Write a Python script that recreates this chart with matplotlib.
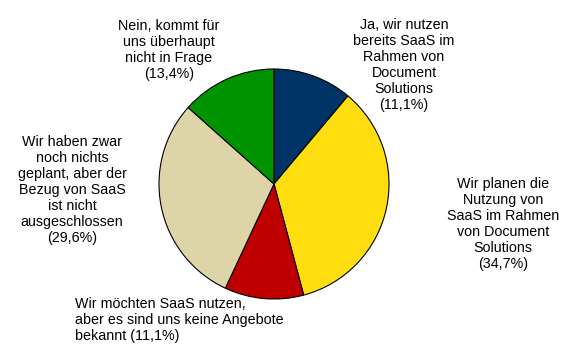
import matplotlib.pyplot as plt

# Daten
labels = [
    "Ja, wir nutzen\nbereits SaaS im\nRahmen von\nDocument\nSolutions\n(11,1%)",
    "Wir planen die\nNutzung von\nSaaS im Rahmen\nvon Document\nSolutions\n(34,7%)",
    "Wir möchten SaaS nutzen,\naber es sind uns keine Angebote\nbekannt (11,1%)",
    "Wir haben zwar\nnoch nichts\ngeplant, aber der\nBezug von SaaS\nist nicht\nausgeschlossen\n(29,6%)",
    "Nein, kommt für\nuns überhaupt\nnicht in Frage\n(13,4%)",
]
values = [11.1, 34.7, 11.1, 29.6, 13.4]
colors = ["#003366", "#FFDD0F", "#C00000", "#DDD4A8", "#009300"]

# Lage der Beschriftungen in Pixeln (x, y von oben), Ausrichtung
label_pos = [(404, 65, "center"), (503, 224, "center"), (75, 320, "left"),
             (72, 190, "center"), (169, 50, "center")]

W, H = 569, 355
fig = plt.figure(figsize=(W / 100, H / 100), dpi=100)
fig.patch.set_facecolor("white")

# Kreis: Mittelpunkt (274, 184), Radius 115 px
cx, cy, r = 274, 184, 115
ax = fig.add_axes([(cx - r) / W, (H - cy - r) / H, 2 * r / W, 2 * r / H])
ax.pie(values, colors=colors, startangle=90, counterclock=False,
       wedgeprops=dict(edgecolor="black", linewidth=0.8))
ax.set_xlim(-1, 1)
ax.set_ylim(-1, 1)
ax.set_aspect("auto")
ax.axis("off")

for text, (x, y, ha) in zip(labels, label_pos):
    fig.text(x / W, 1 - y / H, text, ha=ha, va="center", multialignment=ha,
             fontsize=10.3, family=["Liberation Sans", "DejaVu Sans"],
             linespacing=1.17, color="black")

fig.savefig("out.png", dpi=100, facecolor="white")
